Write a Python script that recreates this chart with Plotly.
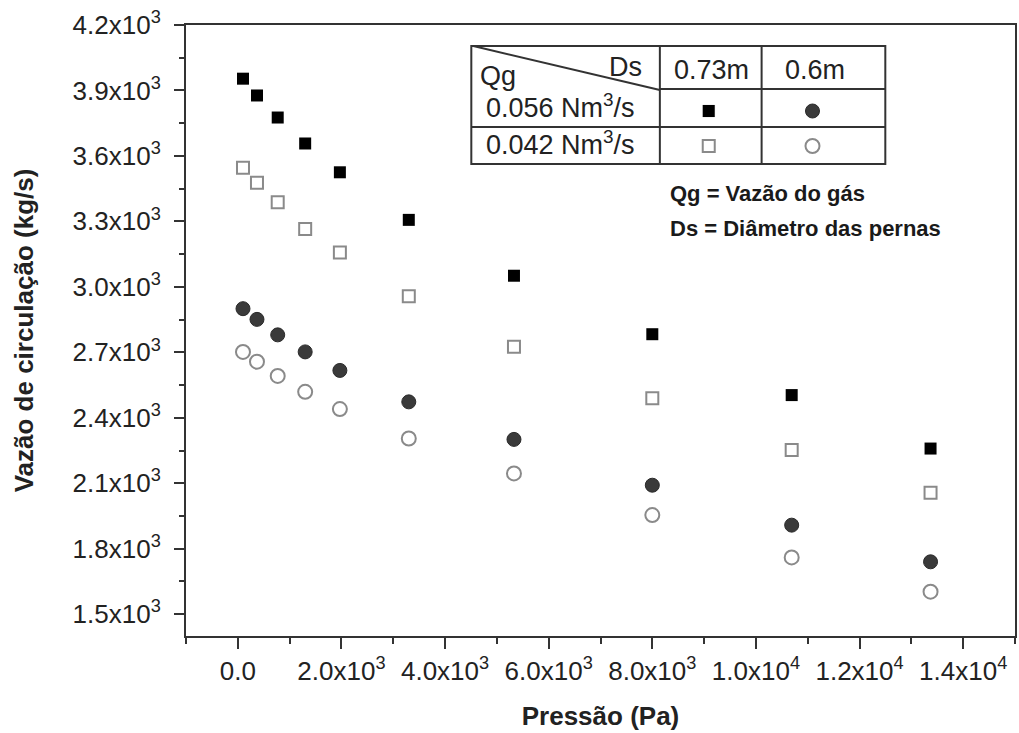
import plotly.graph_objects as go

# Pressure (Pa) and circulation flow (kg/s) for each gas flow / leg diameter pair
pressure = [100, 370, 770, 1300, 1970, 3300, 5330, 8000, 10690, 13370]
flow_q056_d073 = [3954, 3877, 3776, 3657, 3525, 3307, 3051, 2783, 2504, 2259]
flow_q042_d073 = [3546, 3477, 3388, 3265, 3158, 2957, 2726, 2489, 2252, 2056]
flow_q056_d060 = [2900, 2851, 2780, 2702, 2617, 2473, 2301, 2091, 1908, 1740]
flow_q042_d060 = [2702, 2657, 2592, 2519, 2440, 2305, 2145, 1954, 1760, 1603]

x_tickvals = [0, 2000, 4000, 6000, 8000, 10000, 12000, 14000]
x_ticktext = ["0.0", "2.0x10<sup>3</sup>", "4.0x10<sup>3</sup>", "6.0x10<sup>3</sup>",
              "8.0x10<sup>3</sup>", "1.0x10<sup>4</sup>", "1.2x10<sup>4</sup>", "1.4x10<sup>4</sup>"]
y_tickvals = [1500, 1800, 2100, 2400, 2700, 3000, 3300, 3600, 3900, 4200]
y_ticktext = ["1.5x10<sup>3</sup>", "1.8x10<sup>3</sup>", "2.1x10<sup>3</sup>", "2.4x10<sup>3</sup>",
              "2.7x10<sup>3</sup>", "3.0x10<sup>3</sup>", "3.3x10<sup>3</sup>", "3.6x10<sup>3</sup>",
              "3.9x10<sup>3</sup>", "4.2x10<sup>3</sup>"]

W, H = 1019, 733
L, R, T, B = 186, 2, 25, 97
PW, PH = W - L - R, H - T - B

FONT = "Liberation Sans, Arial, sans-serif"
INK = "#222222"
AX = "#333333"

SQ_FILL = "#000000"
CI_FILL = "#3a3a3a"
OPEN_LINE = "#8a8a8a"


def px(xp):
    return (xp - L) / PW


def py(yp):
    return (H - B - yp) / PH


fig = go.Figure()

series = [
    ("Qg 0.056, Ds 0.73m", flow_q056_d073, "square", SQ_FILL, SQ_FILL, 0, 12),
    ("Qg 0.042, Ds 0.73m", flow_q042_d073, "square", "white", OPEN_LINE, 2, 12),
    ("Qg 0.056, Ds 0.6m", flow_q056_d060, "circle", CI_FILL, "#2a2a2a", 1, 14),
    ("Qg 0.042, Ds 0.6m", flow_q042_d060, "circle", "white", OPEN_LINE, 2, 14),
]
for name, ys, sym, fill, edge, lw, size in series:
    fig.add_trace(go.Scatter(
        x=pressure, y=ys, mode="markers", name=name,
        marker=dict(symbol=sym, size=size, color=fill, line=dict(color=edge, width=lw)),
    ))

axis_common = dict(
    showline=True, linecolor=AX, linewidth=2, mirror=True,
    ticks="outside", tickcolor=AX, tickwidth=2,
    showgrid=False, zeroline=False,
    tickfont=dict(family=FONT, size=26, color=INK),
)

fig.update_xaxes(
    range=[-1000, 15000], tickmode="array", tickvals=x_tickvals, ticktext=x_ticktext,
    ticklen=11, tickangle=0,
    minor=dict(ticks="outside", dtick=1000, tick0=1000, ticklen=6, tickcolor=AX, tickwidth=2),
    title=dict(text="<b>Pressão (Pa)</b>", font=dict(family=FONT, size=26, color=INK), standoff=22),
    **axis_common,
)
fig.update_yaxes(
    range=[1400, 4200], tickmode="array", tickvals=y_tickvals, ticktext=y_ticktext,
    ticklen=10, ticklabelstandoff=8,
    minor=dict(ticks="outside", dtick=150, tick0=1350, ticklen=5, tickcolor=AX, tickwidth=2),
    title=dict(text="<b>Vazão de circulação (kg/s)</b>", font=dict(family=FONT, size=26, color=INK), standoff=31),
    **axis_common,
)

# Legend table drawn in the upper right of the plot area
tl, tr, tt, tb = 472, 887, 46, 164
c1, c2 = 661, 763
r1, r2 = 89, 127
line_style = dict(color=AX, width=2)
shapes = [
    dict(type="rect", x0=px(tl), x1=px(tr), y0=py(tt), y1=py(tb)),
    dict(type="line", x0=px(c1), x1=px(c1), y0=py(tt), y1=py(tb)),
    dict(type="line", x0=px(c2), x1=px(c2), y0=py(tt), y1=py(tb)),
    dict(type="line", x0=px(c1), x1=px(tr), y0=py(r1), y1=py(r1)),
    dict(type="line", x0=px(tl), x1=px(tr), y0=py(r2), y1=py(r2)),
    dict(type="line", x0=px(tl + 2), x1=px(c1), y0=py(tt), y1=py(r1 + 1)),
]
for s in shapes:
    s.update(xref="paper", yref="paper", line=line_style, layer="above")

# Marker keys inside the table
keys = [
    ("rect", 710, 111, SQ_FILL, SQ_FILL, 0, 6),
    ("circle", 814, 111, CI_FILL, "#2a2a2a", 1, 7),
    ("rect", 710, 146, "white", OPEN_LINE, 2, 6),
    ("circle", 814, 146, "white", OPEN_LINE, 2, 7),
]
for kind, kx, ky, fill, edge, lw, half in keys:
    shapes.append(dict(
        type=kind, xref="paper", yref="paper", xsizemode="pixel", ysizemode="pixel",
        xanchor=px(kx), yanchor=py(ky), x0=-half, x1=half, y0=-half, y1=half,
        fillcolor=fill, line=dict(color=edge, width=lw if lw else 0.1), layer="above",
    ))

table_font = dict(family=FONT, size=27, color=INK)
notes = [
    ("Qg", 479, 76, "left"),
    ("Ds", 645, 67, "right"),
    ("0.73m", 713, 70, "center"),
    ("0.6m", 817, 70, "center"),
    ("0.056 Nm<sup>3</sup>/s", 561, 106, "center"),
    ("0.042 Nm<sup>3</sup>/s", 561, 143, "center"),
]
annotations = []
for text, ax_, ay_, anchor in notes:
    annotations.append(dict(
        text=text, x=px(ax_), y=py(ay_), xref="paper", yref="paper",
        xanchor=anchor, yanchor="middle", showarrow=False, font=table_font,
    ))

key_font = dict(family=FONT, size=22, color="#1a1a1a")
for text, ky in [("<b>Qg = Vazão do gás</b>", 194), ("<b>Ds = Diâmetro das pernas</b>", 228)]:
    annotations.append(dict(
        text=text, x=px(669), y=py(ky), xref="paper", yref="paper",
        xanchor="left", yanchor="middle", showarrow=False, font=key_font,
    ))

fig.update_layout(
    width=W, height=H,
    margin=dict(l=L, r=R, t=T, b=B, pad=0),
    paper_bgcolor="white", plot_bgcolor="white",
    showlegend=False,
    shapes=shapes, annotations=annotations,
    font=dict(family=FONT, color=INK),
)

fig.write_html("out.html")
